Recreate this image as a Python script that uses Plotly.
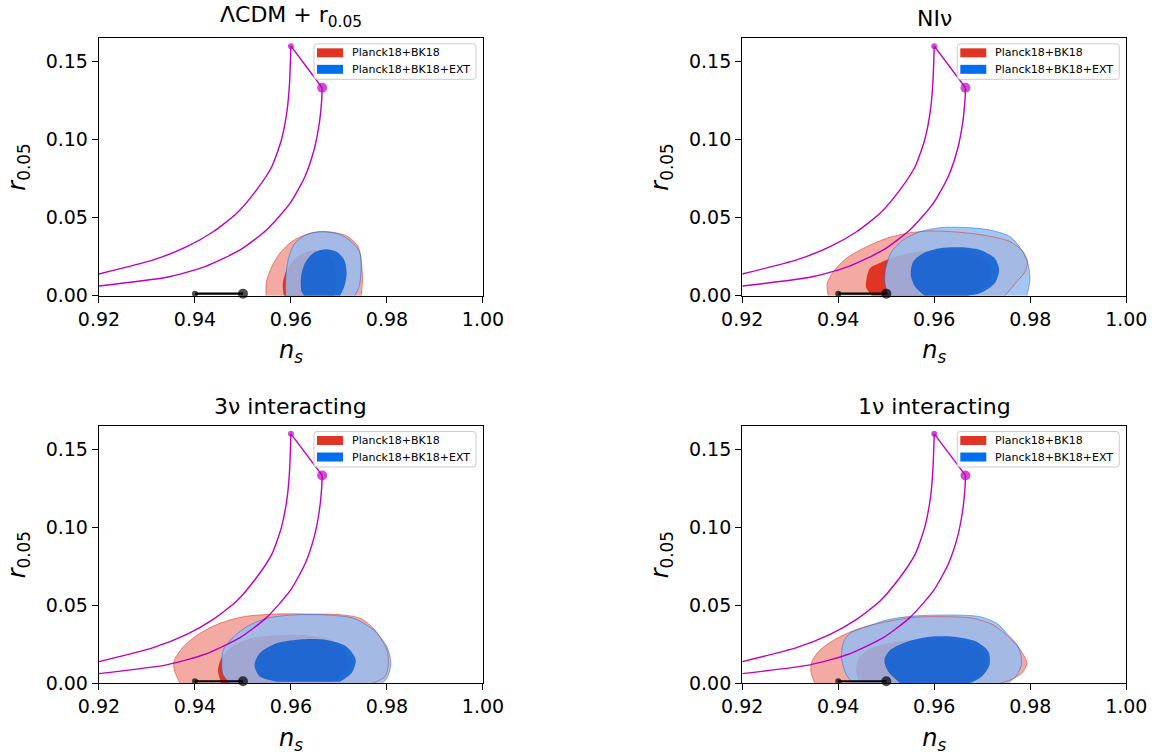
import plotly.graph_objects as go

# ---------------- data ----------------
ns_tickvals = [0.92, 0.94, 0.96, 0.98, 1.00]
ns_ticktext = ["0.92", "0.94", "0.96", "0.98", "1.00"]
r_tickvals = [0.00, 0.05, 0.10, 0.15]
r_ticktext = ["0.00", "0.05", "0.10", "0.15"]

panel_titles = ["ΛCDM + r<sub>0.05</sub>", "NIν", "3ν interacting", "1ν interacting"]
legend_labels = ["Planck18+BK18", "Planck18+BK18+EXT"]

# magenta model curves
model_left_ns = [0.92, 0.9313, 0.9383, 0.9438, 0.9487, 0.9528, 0.956, 0.958, 0.9592, 0.9597, 0.96]
model_left_r = [0.0139, 0.0229, 0.0314, 0.041, 0.0528, 0.0677, 0.0827, 0.0998, 0.119, 0.136, 0.16]
model_right_ns = [0.92, 0.9341, 0.9421, 0.9494, 0.9549, 0.9598, 0.9629, 0.9648, 0.9659, 0.9664, 0.9665]
model_right_r = [0.0062, 0.0118, 0.0186, 0.0293, 0.0421, 0.0592, 0.0763, 0.0934, 0.1105, 0.1254, 0.1333]
model_end_ns = [0.96, 0.9665]
model_end_r = [0.16, 0.1333]

# black segment
black_ns = [0.94, 0.95]
black_r = [0.0013, 0.0013]

# Panel 1: LCDM + r
lcdm_red95_ns = [0.9548, 0.9549, 0.956, 0.9577, 0.9601, 0.9629, 0.9657, 0.9692, 0.9719, 0.974, 0.9747, 0.9749, 0.9746]
lcdm_red95_r = [0, 0.009, 0.0186, 0.0272, 0.0346, 0.0389, 0.041, 0.0404, 0.0378, 0.0314, 0.0208, 0.01, 0]
lcdm_red68_ns = [0.9585, 0.9583, 0.9592, 0.961, 0.9635, 0.966, 0.968, 0.9693, 0.9695, 0.969]
lcdm_red68_r = [0, 0.008, 0.017, 0.024, 0.0285, 0.029, 0.026, 0.018, 0.008, 0]
lcdm_blue95_ns = [0.9589, 0.9589, 0.9594, 0.9608, 0.9636, 0.9664, 0.9699, 0.9726, 0.9744, 0.9746, 0.9742, 0.9733]
lcdm_blue95_r = [0, 0.0097, 0.0229, 0.0336, 0.0396, 0.041, 0.0396, 0.0346, 0.0272, 0.0165, 0.0058, 0]
lcdm_blue68_ns = [0.9628, 0.9622, 0.9621, 0.9629, 0.9646, 0.9671, 0.9695, 0.9711, 0.9716, 0.9711, 0.9702]
lcdm_blue68_r = [0, 0.0026, 0.0122, 0.0208, 0.0272, 0.0297, 0.0282, 0.0229, 0.0144, 0.0058, 0]

# Panel 2: NI nu
ni_red95_ns = [0.9379, 0.9377, 0.939, 0.9417, 0.9459, 0.9501, 0.9543, 0.9591, 0.9654, 0.9709, 0.9758, 0.9785, 0.9794, 0.9789, 0.9772, 0.9747]
ni_red95_r = [0, 0.0079, 0.0154, 0.024, 0.0314, 0.0368, 0.04, 0.0415, 0.0406, 0.0385, 0.0346, 0.0282, 0.0218, 0.0154, 0.009, 0]
ni_red68_ns = [0.947, 0.9458, 0.9459, 0.9466, 0.949, 0.952, 0.956, 0.961, 0.9655, 0.969, 0.9712, 0.9715, 0.970, 0.967]
ni_red68_r = [0, 0.005, 0.011, 0.0176, 0.0215, 0.025, 0.028, 0.029, 0.0285, 0.026, 0.02, 0.012, 0.005, 0]
ni_blue95_ns = [0.9504, 0.9497, 0.9499, 0.9511, 0.9535, 0.957, 0.9612, 0.966, 0.9716, 0.9758, 0.9782, 0.9796, 0.9799, 0.9793]
ni_blue95_r = [0, 0.009, 0.0176, 0.0282, 0.0357, 0.041, 0.0436, 0.0438, 0.0421, 0.0378, 0.0293, 0.0197, 0.01, 0]
ni_blue68_ns = [0.958, 0.956, 0.9551, 0.9556, 0.9577, 0.9612, 0.9654, 0.9695, 0.9726, 0.9735, 0.9726, 0.9695, 0.967]
ni_blue68_r = [0, 0.0058, 0.0133, 0.0218, 0.0272, 0.0304, 0.031, 0.0293, 0.024, 0.0165, 0.0079, 0.0015, 0]

# Panel 3: 3 nu interacting
three_red95_ns = [0.9369, 0.9358, 0.9356, 0.9376, 0.941, 0.9452, 0.9501, 0.957, 0.964, 0.9702, 0.9744, 0.9772, 0.9789, 0.98, 0.9803, 0.9796, 0.977]
three_red95_r = [0, 0.0075, 0.0139, 0.0235, 0.032, 0.0385, 0.0427, 0.0444, 0.0444, 0.044, 0.0417, 0.0353, 0.0278, 0.0213, 0.0128, 0.0043, 0]
three_red68_ns = [0.9455, 0.9448, 0.9455, 0.948, 0.952, 0.958, 0.964, 0.969, 0.9715, 0.9718, 0.970, 0.968]
three_red68_r = [0, 0.008, 0.016, 0.024, 0.029, 0.031, 0.0305, 0.027, 0.02, 0.011, 0.003, 0]
three_blue95_ns = [0.9472, 0.9458, 0.9456, 0.9459, 0.9477, 0.9508, 0.955, 0.9605, 0.9674, 0.973, 0.9772, 0.98, 0.9808, 0.98, 0.9789]
three_blue95_r = [0, 0.006, 0.0139, 0.0213, 0.0288, 0.0363, 0.0417, 0.0438, 0.0438, 0.0417, 0.0342, 0.0235, 0.0128, 0.0032, 0]
three_blue68_ns = [0.957, 0.9535, 0.9524, 0.9535, 0.957, 0.9626, 0.9674, 0.9716, 0.9735, 0.9726, 0.9702]
three_blue68_r = [0.001, 0.0043, 0.0117, 0.0192, 0.0256, 0.0282, 0.0278, 0.0235, 0.0149, 0.0064, 0.001]

# Panel 4: 1 nu interacting
one_red95_ns = [0.9351, 0.9343, 0.9345, 0.9362, 0.9397, 0.9445, 0.9501, 0.9556, 0.9619, 0.9681, 0.9723, 0.9758, 0.9782, 0.9793, 0.9782, 0.9758, 0.9737]
one_red95_r = [0, 0.0075, 0.0139, 0.0213, 0.0288, 0.0353, 0.0395, 0.0423, 0.0427, 0.0417, 0.0374, 0.0288, 0.0203, 0.0128, 0.0064, 0.0021, 0]
one_red68_ns = [0.9445, 0.9437, 0.9443, 0.9465, 0.951, 0.957, 0.963, 0.968, 0.9705, 0.9708, 0.969, 0.966]
one_red68_r = [0, 0.008, 0.016, 0.022, 0.026, 0.028, 0.028, 0.025, 0.019, 0.011, 0.004, 0]
one_blue95_ns = [0.9431, 0.9417, 0.9407, 0.941, 0.9424, 0.9459, 0.9501, 0.9556, 0.9626, 0.9695, 0.973, 0.9751, 0.9775, 0.9782, 0.9772, 0.9754]
one_blue95_r = [0, 0.0053, 0.016, 0.0256, 0.032, 0.0363, 0.0406, 0.0431, 0.0438, 0.0427, 0.0385, 0.032, 0.0235, 0.0128, 0.0053, 0]
one_blue68_ns = [0.9529, 0.9504, 0.9496, 0.9508, 0.9543, 0.9591, 0.964, 0.9688, 0.9713, 0.9715, 0.9699, 0.9674]
one_blue68_r = [0, 0.0075, 0.0149, 0.0213, 0.0267, 0.0299, 0.0299, 0.0267, 0.0203, 0.0117, 0.0043, 0]

panels = [
    (lcdm_red95_ns, lcdm_red95_r, lcdm_red68_ns, lcdm_red68_r, lcdm_blue95_ns, lcdm_blue95_r, lcdm_blue68_ns, lcdm_blue68_r),
    (ni_red95_ns, ni_red95_r, ni_red68_ns, ni_red68_r, ni_blue95_ns, ni_blue95_r, ni_blue68_ns, ni_blue68_r),
    (three_red95_ns, three_red95_r, three_red68_ns, three_red68_r, three_blue95_ns, three_blue95_r, three_blue68_ns, three_blue68_r),
    (one_red95_ns, one_red95_r, one_red68_ns, one_red68_r, one_blue95_ns, one_blue95_r, one_blue68_ns, one_blue68_r),
]

# ---------------- styling ----------------
W, H = 1156, 756
x_domains = [[0.0856, 0.4178], [0.6421, 0.9743], [0.0856, 0.4178], [0.6421, 0.9743]]
y_domains = [[0.6089, 0.9493], [0.6089, 0.9493], [0.0962, 0.4365], [0.0962, 0.4365]]

RED = "#E03424"
BLUE = "#006FED"
RED95_FILL = "rgba(224,52,36,0.42)"
RED95_LINE = "rgba(224,52,36,0.55)"
RED68_FILL = "rgb(224,52,36)"
BLUE95_FILL = "rgba(150,188,240,0.85)"
BLUE95_LINE = "rgba(0,111,237,0.5)"
BLUE68_FILL = "rgba(0,88,210,0.8)"
MAGENTA = "#BF00BF"
FONT = "DejaVu Sans"


def px2paper(xp, yp):
    return xp / W, 1 - yp / H


fig = go.Figure()

for i, p in enumerate(panels):
    r95x, r95y, r68x, r68y, b95x, b95y, b68x, b68y = p
    sfx = "" if i == 0 else str(i + 1)
    xa, ya = "x" + sfx, "y" + sfx
    common = dict(xaxis=xa, yaxis=ya, mode="lines", fill="toself", line_shape="spline",
                  hoverinfo="skip", showlegend=False)
    fig.add_trace(go.Scatter(x=r95x, y=r95y, fillcolor=RED95_FILL, name=legend_labels[0],
                             line=dict(width=0, color=RED95_FILL, smoothing=0.8), **common))
    fig.add_trace(go.Scatter(x=r68x, y=r68y, fillcolor=RED68_FILL, name=legend_labels[0],
                             line=dict(width=0, color=RED68_FILL, smoothing=0.8), **common))
    fig.add_trace(go.Scatter(x=b95x, y=b95y, fillcolor=BLUE95_FILL, name=legend_labels[1],
                             line=dict(width=0, color=BLUE95_FILL, smoothing=0.8), **common))
    fig.add_trace(go.Scatter(x=b68x, y=b68y, fillcolor=BLUE68_FILL, name=legend_labels[1],
                             line=dict(width=0, color=BLUE68_FILL, smoothing=0.8), **common))
    # outlines of outer contours
    fig.add_trace(go.Scatter(x=r95x, y=r95y, xaxis=xa, yaxis=ya, mode="lines", line_shape="spline",
                             line=dict(width=1, color=RED95_LINE, smoothing=0.8), hoverinfo="skip", showlegend=False))
    fig.add_trace(go.Scatter(x=b95x, y=b95y, xaxis=xa, yaxis=ya, mode="lines", line_shape="spline",
                             line=dict(width=1, color=BLUE95_LINE, smoothing=0.8), hoverinfo="skip", showlegend=False))
    # magenta model curves
    for cx, cy in ((model_left_ns, model_left_r), (model_right_ns, model_right_r)):
        fig.add_trace(go.Scatter(x=cx, y=cy, xaxis=xa, yaxis=ya, mode="lines", line_shape="spline",
                                 line=dict(width=1.4, color=MAGENTA, smoothing=0.6), hoverinfo="skip",
                                 showlegend=False, cliponaxis=False))
    fig.add_trace(go.Scatter(x=model_end_ns, y=model_end_r, xaxis=xa, yaxis=ya, mode="lines+markers",
                             line=dict(width=1.4, color=MAGENTA),
                             marker=dict(size=[6, 10], color=MAGENTA, line=dict(width=0)),
                             hoverinfo="skip", showlegend=False, cliponaxis=False))
    fig.add_trace(go.Scatter(x=black_ns, y=black_r, xaxis=xa, yaxis=ya, mode="lines+markers",
                             line=dict(width=2.2, color="black"),
                             marker=dict(size=[6, 10], color="black", line=dict(width=0)),
                             hoverinfo="skip", showlegend=False, cliponaxis=False))

layout = dict(width=W, height=H, margin=dict(l=0, r=0, t=0, b=0),
              paper_bgcolor="white", plot_bgcolor="white", showlegend=False,
              font=dict(family=FONT, color="black"))
annotations = []
shapes = []
for i in range(4):
    sfx = "" if i == 0 else str(i + 1)
    axis_common = dict(showline=True, linecolor="black", linewidth=1.4, mirror=True,
                       ticks="outside", ticklen=6, tickwidth=1.3, tickcolor="black",
                       showgrid=False, zeroline=False, automargin=False,
                       tickfont=dict(size=19, family=FONT, color="black"))
    layout["xaxis" + sfx] = dict(domain=x_domains[i], anchor="y" + sfx, range=[0.92, 1.00],
                                 tickvals=ns_tickvals, ticktext=ns_ticktext,
                                 title=dict(text="<i>n</i><sub><i>s</i></sub>", font=dict(size=24, family=FONT), standoff=12),
                                 **axis_common)
    layout["yaxis" + sfx] = dict(domain=y_domains[i], anchor="x" + sfx, range=[0, 0.165],
                                 tickvals=r_tickvals, ticktext=r_ticktext,
                                 title=dict(text="<i>r</i><sub>0.05</sub>", font=dict(size=24, family=FONT), standoff=13),
                                 **axis_common)
    annotations.append(dict(text=panel_titles[i], x=sum(x_domains[i]) / 2, y=y_domains[i][1],
                            xref="paper", yref="paper", xanchor="center", yanchor="bottom",
                            yshift=5, showarrow=False, font=dict(size=22, family=FONT, color="black")))

    # legend box (matplotlib-style, placed in the upper-right corner of each panel)
    R = x_domains[i][1] * W
    T = (1 - y_domains[i][1]) * H
    bx0, bx1, by0, by1, rad = R - 169, R - 7, T + 5.5, T + 41, 3
    x0, y0 = px2paper(bx0, by0)
    x1, y1 = px2paper(bx1, by1)
    rx, ry = rad / W, rad / H
    path = (f"M{x0 + rx},{y0} L{x1 - rx},{y0} Q{x1},{y0} {x1},{y0 - ry} "
            f"L{x1},{y1 + ry} Q{x1},{y1} {x1 - rx},{y1} L{x0 + rx},{y1} "
            f"Q{x0},{y1} {x0},{y1 + ry} L{x0},{y0 - ry} Q{x0},{y0} {x0 + rx},{y0} Z")
    shapes.append(dict(type="path", path=path, xref="paper", yref="paper", layer="above",
                       fillcolor="rgba(255,255,255,0.8)", line=dict(color="#cccccc", width=1)))
    for k, (col, lab) in enumerate(zip([RED, BLUE], legend_labels)):
        cy = T + 14.5 + k * 16.5
        px0, py0 = px2paper(R - 166, cy - 4.5)
        px1, py1 = px2paper(R - 140, cy + 4.5)
        shapes.append(dict(type="rect", x0=px0, x1=px1, y0=py0, y1=py1, xref="paper", yref="paper",
                           layer="above", fillcolor=col, line=dict(width=0)))
        tx, ty = px2paper(R - 133, cy)
        annotations.append(dict(text=lab, x=tx, y=ty, xref="paper", yref="paper",
                                xanchor="left", yanchor="middle", showarrow=False,
                                font=dict(size=11, family=FONT, color="black")))
layout["annotations"] = annotations
layout["shapes"] = shapes
fig.update_layout(**layout)

fig.write_html("out.html", config={"displayModeBar": False},
               post_script="document.body.style.margin='0';")
